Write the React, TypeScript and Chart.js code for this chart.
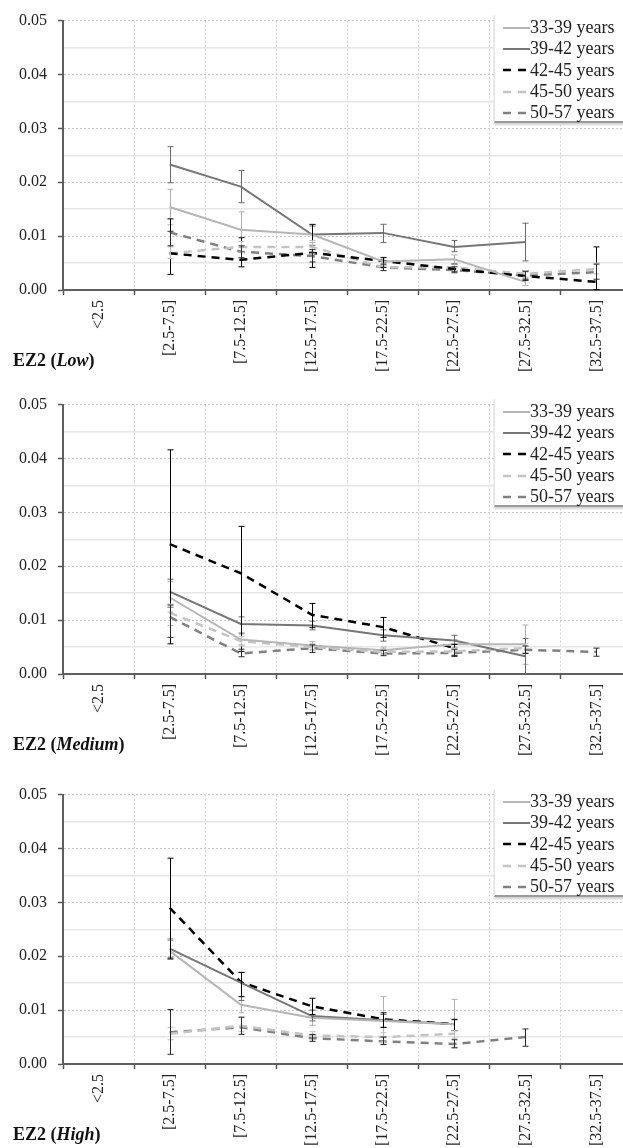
import React, { useEffect, useRef } from 'react';
import { Chart, registerables } from 'chart.js';

Chart.register(...registerables);

// ---------- data ----------
const categories = ['<2.5', '[2.5-7.5]', '[7.5-12.5]', '[12.5-17.5]', '[17.5-22.5]', '[22.5-27.5]', '[27.5-32.5]', '[32.5-37.5]'];
const seriesNames = ['33-39 years', '39-42 years', '42-45 years', '45-50 years', '50-57 years'];
const panelTitles = ['Low', 'Medium', 'High'];
const yMin = 0;
const yMax = 0.05;
const yStep = 0.005;

type Pair = [number, number] | null;

// EZ2 (Low)
const low3339 = [null, 0.0154, 0.0112, 0.0103, 0.0053, 0.0057, 0.0015, null];
const low3942 = [null, 0.0233, 0.0192, 0.0103, 0.0106, 0.0080, 0.0089, null];
const low4245 = [null, 0.0068, 0.0056, 0.0069, 0.0054, 0.0039, 0.0026, 0.0015];
const low4550 = [null, 0.0068, 0.0080, 0.0080, 0.0042, 0.0042, 0.0030, 0.0039];
const low5057 = [null, 0.0107, 0.0071, 0.0063, 0.0042, 0.0037, 0.0027, 0.0033];
const lowErr3339: Pair[] = [null, [0.0121, 0.0187], [0.0079, 0.0145], [0.0088, 0.0118], [0.0045, 0.0061], [0.0049, 0.0065], [0.0008, 0.0022], null];
const lowErr3942: Pair[] = [null, [0.0199, 0.0266], [0.0162, 0.0222], [0.0083, 0.0122], [0.0088, 0.0122], [0.0071, 0.0092], [0.0054, 0.0124], null];
const lowErr4245: Pair[] = [null, [0.0029, 0.0132], [0.0043, 0.0097], [0.0042, 0.0121], [0.0042, 0.0060], [0.0035, 0.0048], [0.0018, 0.0036], [0.0001, 0.0080]];
const lowErr4550: Pair[] = [null, [0.0058, 0.0080], [0.0070, 0.0090], [0.0068, 0.0092], [0.0036, 0.0048], [0.0036, 0.0048], [0.0024, 0.0036], [0.0030, 0.0050]];
const lowErr5057: Pair[] = [null, [0.0082, 0.0109], [0.0060, 0.0082], [0.0052, 0.0075], [0.0036, 0.0048], [0.0032, 0.0043], [0.0020, 0.0034], [0.0020, 0.0048]];

// EZ2 (Medium)
const med3339 = [null, 0.0142, 0.0064, 0.0053, 0.0044, 0.0055, 0.0055, null];
const med3942 = [null, 0.0153, 0.0093, 0.0090, 0.0072, 0.0062, 0.0033, null];
const med4245 = [null, 0.0241, 0.0187, 0.0110, 0.0087, 0.0048, null, null];
const med4550 = [null, 0.0114, 0.0061, 0.0050, 0.0041, 0.0042, 0.0048, null];
const med5057 = [null, 0.0106, 0.0038, 0.0048, 0.0038, 0.0039, 0.0045, 0.0041];
const medErr3339: Pair[] = [null, [0.0115, 0.0172], [0.0054, 0.0074], [0.0046, 0.0060], [0.0038, 0.0050], [0.0048, 0.0064], [0.0018, 0.0091], null];
const medErr3942: Pair[] = [null, [0.0124, 0.0176], [0.0076, 0.0106], [0.0082, 0.0098], [0.0061, 0.0082], [0.0048, 0.0072], [0.0000, 0.0066], null];
const medErr4245: Pair[] = [null, [0.0056, 0.0416], [0.0042, 0.0274], [0.0086, 0.0131], [0.0068, 0.0105], [0.0033, 0.0055], null, null];
const medErr4550: Pair[] = [null, [0.0090, 0.0130], [0.0052, 0.0070], [0.0044, 0.0056], [0.0036, 0.0047], [0.0036, 0.0048], [0.0040, 0.0056], null];
const medErr5057: Pair[] = [null, [0.0068, 0.0128], [0.0032, 0.0046], [0.0040, 0.0054], [0.0034, 0.0044], [0.0034, 0.0045], [0.0038, 0.0052], [0.0033, 0.0048]];

// EZ2 (High)
const high3339 = [null, 0.0210, 0.0110, 0.0086, 0.0080, 0.0074, null, null];
const high3942 = [null, 0.0214, 0.0151, 0.0089, 0.0081, 0.0074, null, null];
const high4245 = [null, 0.0290, 0.0152, 0.0107, 0.0083, 0.0074, null, null];
const high4550 = [null, 0.0056, 0.0071, 0.0053, 0.0050, 0.0056, null, null];
const high5057 = [null, 0.0059, 0.0068, 0.0048, 0.0042, 0.0037, 0.0050, null];
const highErr3339: Pair[] = [null, [0.0195, 0.0233], [0.0095, 0.0125], [0.0072, 0.0100], [0.0037, 0.0125], [0.0031, 0.0120], null, null];
const highErr3942: Pair[] = [null, [0.0198, 0.0230], [0.0118, 0.0170], [0.0080, 0.0100], [0.0068, 0.0092], [0.0062, 0.0082], null, null];
const highErr4245: Pair[] = [null, [0.0195, 0.0382], [0.0125, 0.0170], [0.0092, 0.0122], [0.0068, 0.0095], [0.0062, 0.0083], null, null];
const highErr4550: Pair[] = [null, [0.0045, 0.0068], [0.0060, 0.0086], [0.0045, 0.0060], [0.0042, 0.0058], [0.0048, 0.0062], null, null];
const highErr5057: Pair[] = [null, [0.0018, 0.0101], [0.0055, 0.0087], [0.0042, 0.0055], [0.0036, 0.0050], [0.0030, 0.0045], [0.0033, 0.0065], null];

// ---------- styles ----------
const lineColors = ['#b6b6b6', '#767676', '#000000', '#c4c4c4', '#808080'];
const errColors = ['#b0b0b0', '#6a6a6a', '#000000', '#bdbdbd', '#2a2a2a'];
const lineWidths = [2, 2, 2.5, 2.5, 2.5];
const lineDashes: number[][] = [[], [], [8, 6], [8, 6], [8, 6]];
const FONT = '"Liberation Serif", "Times New Roman", serif';

const panelData = [
  { values: [low3339, low3942, low4245, low4550, low5057], errs: [lowErr3339, lowErr3942, lowErr4245, lowErr4550, lowErr5057] },
  { values: [med3339, med3942, med4245, med4550, med5057], errs: [medErr3339, medErr3942, medErr4245, medErr4550, medErr5057] },
  { values: [high3339, high3942, high4245, high4550, high5057], errs: [highErr3339, highErr3942, highErr4245, highErr4550, highErr5057] },
];

const panelTops = [0, 384, 774];
const panelHeights = [384, 390, 374];
const CANVAS_W = 640;
const AREA_TOP = 14;
const AREA_BOTTOM = 290;
const AXIS_X = 63;

const errorBarPlugin = {
  id: 'errorBars',
  afterDatasetsDraw(chart: any) {
    const { ctx } = chart;
    const xs = chart.scales.x;
    const ys = chart.scales.y;
    chart.data.datasets.forEach((ds: any) => {
      const errs: Pair[] = ds.errorBars;
      if (!errs) return;
      ctx.save();
      ctx.strokeStyle = ds.errorColor;
      ctx.lineWidth = 1;
      errs.forEach((e, i) => {
        if (!e) return;
        const px = Math.round(xs.getPixelForValue(i)) + 0.5;
        const top = ys.getPixelForValue(e[1]);
        const bot = ys.getPixelForValue(e[0]);
        ctx.beginPath();
        ctx.moveTo(px, top);
        ctx.lineTo(px, bot);
        ctx.moveTo(px - 3, top);
        ctx.lineTo(px + 3, top);
        ctx.moveTo(px - 3, bot);
        ctx.lineTo(px + 3, bot);
        ctx.stroke();
      });
      ctx.restore();
    });
  },
};

function Panel({ index }: { index: number }) {
  const ref = useRef<HTMLCanvasElement | null>(null);
  const h = panelHeights[index];
  useEffect(() => {
    if (!ref.current) return;
    const pd = panelData[index];
    const chart = new Chart(ref.current, {
      type: 'line',
      data: {
        labels: categories,
        datasets: seriesNames.map((name, si) => ({
          label: name,
          data: pd.values[si],
          borderColor: lineColors[si],
          backgroundColor: lineColors[si],
          borderWidth: lineWidths[si],
          borderDash: lineDashes[si],
          pointRadius: 0,
          pointHoverRadius: 0,
          fill: false,
          tension: 0,
          spanGaps: false,
          errorBars: pd.errs[si],
          errorColor: errColors[si],
        } as any)),
      },
      options: {
        responsive: false,
        animation: false,
        events: [],
        layout: { padding: { top: AREA_TOP, right: 8, left: 0, bottom: 0 } },
        plugins: {
          legend: { display: false },
          tooltip: { enabled: false },
        },
        scales: {
          x: {
            type: 'category',
            offset: true,
            afterFit: (s: any) => { s.height = h - AREA_BOTTOM; },
            grid: {
              offset: true,
              color: '#d2d2d2',
              lineWidth: 1,
              tickLength: 5,
              tickColor: '#555555',
              tickWidth: 1.5,
            },
            border: { display: true, color: '#5e5e5e', width: 2, dash: [2, 2] },
            ticks: {
              autoSkip: false,
              maxRotation: 90,
              minRotation: 90,
              padding: 5,
              color: '#222222',
              font: { family: FONT, size: 16 },
            },
          },
          y: {
            type: 'linear',
            min: yMin,
            max: yMax,
            afterFit: (s: any) => { s.width = AXIS_X; },
            grid: {
              color: (c: any) => (c.index % 2 === 0 ? '#c9c9c9' : '#e6e6e6'),
              lineWidth: (c: any) => (c.index % 2 === 0 ? 1 : 1.5),
              tickLength: 5,
              tickColor: (c: any) => (c.index % 2 === 0 ? '#555555' : 'rgba(0,0,0,0)'),
              tickWidth: 1.5,
            },
            border: {
              display: true,
              color: '#5e5e5e',
              width: 2,
              dash: (c: any) => (c.index % 2 === 0 ? [2, 2] : []),
            },
            ticks: {
              stepSize: yStep,
              padding: 11,
              color: '#222222',
              font: { family: FONT, size: 16 },
              callback: (v: any, i: number) => (i % 2 === 0 ? Number(v).toFixed(2) : ''),
            },
          },
        },
      } as any,
      plugins: [errorBarPlugin],
    });
    return () => chart.destroy();
  }, [index, h]);

  return (
    <div style={{ position: 'absolute', left: 0, top: panelTops[index], width: CANVAS_W, height: h }}>
      <canvas ref={ref} width={CANVAS_W} height={h} style={{ display: 'block' }} />
      <div
        style={{
          position: 'absolute',
          left: 494,
          top: AREA_TOP + 1,
          width: 150,
          height: 108,
          background: '#ffffff',
          borderLeft: '1px solid #e2e2e2',
          borderBottom: '2px solid #9a9a9a',
          boxShadow: '0 2px 2px #d0d0d0',
          paddingTop: 2,
          boxSizing: 'border-box',
        }}
      >
        {seriesNames.map((name, si) => (
          <div key={name} style={{ display: 'flex', alignItems: 'center', height: 21.3, paddingLeft: 8 }}>
            <svg width={27} height={10} style={{ display: 'block', flex: 'none' }}>
              <line
                x1={0}
                y1={5}
                x2={lineDashes[si].length ? 24 : 27}
                y2={5}
                stroke={lineColors[si]}
                strokeWidth={lineWidths[si]}
                strokeDasharray={lineDashes[si].length ? '8 7' : undefined}
              />
            </svg>
            <span style={{ fontFamily: FONT, fontSize: 18, color: '#222222', whiteSpace: 'nowrap', lineHeight: '21px' }}>{name}</span>
          </div>
        ))}
      </div>
      <div
        style={{
          position: 'absolute',
          left: 13,
          top: 347,
          fontFamily: FONT,
          fontWeight: 'bold',
          fontSize: 18,
          color: '#111111',
          lineHeight: '26px',
          whiteSpace: 'nowrap',
        }}
      >
        EZ2 (<i>{panelTitles[index]}</i>)
      </div>
    </div>
  );
}

export default function App() {
  return (
    <div style={{ position: 'absolute', left: 0, top: 0, width: 623, height: 1148, overflow: 'hidden', background: '#ffffff' }}>
      {[0, 1, 2].map((i) => (
        <Panel key={i} index={i} />
      ))}
    </div>
  );
}
